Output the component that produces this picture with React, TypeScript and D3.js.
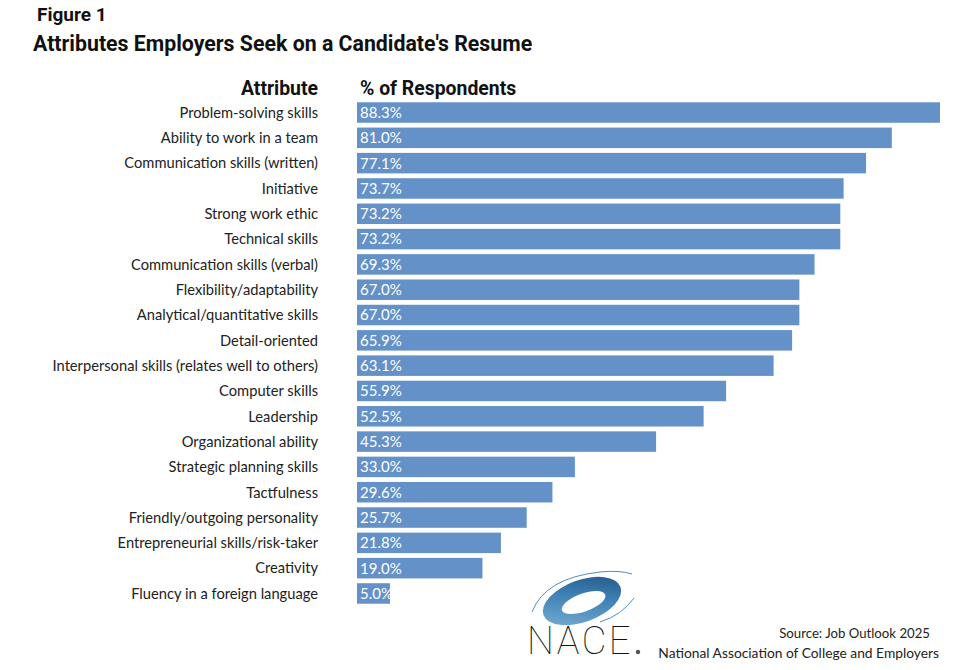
import { useEffect, useRef } from 'react';
import * as d3 from 'd3';

const attributes = [
  'Problem-solving skills',
  'Ability to work in a team',
  'Communication skills (written)',
  'Initiative',
  'Strong work ethic',
  'Technical skills',
  'Communication skills (verbal)',
  'Flexibility/adaptability',
  'Analytical/quantitative skills',
  'Detail-oriented',
  'Interpersonal skills (relates well to others)',
  'Computer skills',
  'Leadership',
  'Organizational ability',
  'Strategic planning skills',
  'Tactfulness',
  'Friendly/outgoing personality',
  'Entrepreneurial skills/risk-taker',
  'Creativity',
  'Fluency in a foreign language',
];

const percents = [
  88.3, 81.0, 77.1, 73.7, 73.2, 73.2, 69.3, 67.0, 67.0, 65.9, 63.1, 55.9, 52.5,
  45.3, 33.0, 29.6, 25.7, 21.8, 19.0, 5.0,
];

const WIDTH = 964;
const HEIGHT = 670;
const BAR_COLOR = '#6591c9';
const LABEL_FONT = 'Lato, "Open Sans", sans-serif';
const TITLE_FONT = 'Roboto, "Open Sans", sans-serif';

export default function App() {
  const svgRef = useRef<SVGSVGElement>(null);

  useEffect(() => {
    if (!svgRef.current) return;
    const svg = d3.select(svgRef.current);
    svg.selectAll('*').remove();

    const x = d3.scaleLinear().domain([0, 88.3]).range([357, 940]);
    const y = d3
      .scaleBand<string>()
      .domain(attributes)
      .range([101, 605])
      .paddingInner(0.19)
      .paddingOuter(0.05);

    const defs = svg.append('defs');
    const grad = defs
      .append('linearGradient')
      .attr('id', 'naceGrad')
      .attr('x1', '0%')
      .attr('y1', '100%')
      .attr('x2', '100%')
      .attr('y2', '0%');
    grad.append('stop').attr('offset', '0%').attr('stop-color', '#7fb3d8');
    grad.append('stop').attr('offset', '55%').attr('stop-color', '#3f82b5');
    grad.append('stop').attr('offset', '100%').attr('stop-color', '#1d4f7e');

    // titles
    svg
      .append('text')
      .attr('x', 37)
      .attr('y', 21)
      .attr('font-family', TITLE_FONT)
      .attr('font-weight', 'bold')
      .attr('font-size', 19)
      .attr('fill', '#111')
      .text('Figure 1');
    svg
      .append('text')
      .attr('x', 33)
      .attr('y', 51)
      .attr('font-family', TITLE_FONT)
      .attr('font-weight', 'bold')
      .attr('font-size', 21.3)
      .attr('fill', '#111')
      .text("Attributes Employers Seek on a Candidate's Resume");

    // column headers
    svg
      .append('text')
      .attr('x', 318)
      .attr('y', 95)
      .attr('text-anchor', 'end')
      .attr('font-family', TITLE_FONT)
      .attr('font-weight', 'bold')
      .attr('font-size', 19.4)
      .attr('fill', '#111')
      .text('Attribute');
    svg
      .append('text')
      .attr('x', 360)
      .attr('y', 95)
      .attr('font-family', TITLE_FONT)
      .attr('font-weight', 'bold')
      .attr('font-size', 19.4)
      .attr('fill', '#111')
      .text('% of Respondents');

    const rows = attributes.map((a, i) => ({ name: a, value: percents[i] }));

    svg
      .append('g')
      .selectAll('rect')
      .data(rows)
      .join('rect')
      .attr('x', x(0))
      .attr('y', (d) => y(d.name)!)
      .attr('width', (d) => x(d.value) - x(0))
      .attr('height', y.bandwidth())
      .attr('fill', BAR_COLOR);

    svg
      .append('g')
      .selectAll('text')
      .data(rows)
      .join('text')
      .attr('x', x(0) + 3)
      .attr('y', (d) => y(d.name)! + y.bandwidth() / 2)
      .attr('dy', '0.36em')
      .attr('font-family', LABEL_FONT)
      .attr('font-size', 15)
      .attr('fill', '#fff')
      .text((d) => d.value.toFixed(1) + '%');

    svg
      .append('g')
      .selectAll('text')
      .data(rows)
      .join('text')
      .attr('x', 318)
      .attr('y', (d) => y(d.name)! + y.bandwidth() / 2)
      .attr('dy', '0.36em')
      .attr('text-anchor', 'end')
      .attr('font-family', LABEL_FONT)
      .attr('font-size', 14.7)
      .attr('fill', '#222')
      .text((d) => d.name);

    // NACE logo
    const logo = svg.append('g');
    const ring = (cx: number, cy: number, rx: number, ry: number) =>
      `M ${cx - rx} ${cy} a ${rx} ${ry} 0 1 0 ${2 * rx} 0 a ${rx} ${ry} 0 1 0 ${-2 * rx} 0 Z`;
    logo
      .append('path')
      .attr('d', ring(582, 601, 41, 21) + ' ' + ring(583, 603, 23, 9))
      .attr('fill-rule', 'evenodd')
      .attr('transform', 'rotate(-20 582 601)')
      .attr('fill', 'url(#naceGrad)');
    logo
      .append('path')
      .attr('d', 'M 532 612 Q 545 578 600 572 Q 620 570 632 574')
      .attr('fill', 'none')
      .attr('stroke', '#4f8fbf')
      .attr('stroke-width', 1);
    logo
      .append('path')
      .attr('d', 'M 600 622 Q 622 615 634 598')
      .attr('fill', 'none')
      .attr('stroke', '#4f8fbf')
      .attr('stroke-width', 1);
    logo
      .append('text')
      .attr('x', 527)
      .attr('y', 654)
      .attr('font-family', 'Roboto, sans-serif')
      .attr('font-weight', 100)
      .attr('font-size', 38)
      .attr('letter-spacing', 2.5)
      .attr('fill', '#111')
      .text('NACE');
    logo
      .append('circle')
      .attr('cx', 638)
      .attr('cy', 652)
      .attr('r', 2.2)
      .attr('fill', '#555');

    // source
    svg
      .append('text')
      .attr('x', 930)
      .attr('y', 638)
      .attr('text-anchor', 'end')
      .attr('font-family', LABEL_FONT)
      .attr('font-size', 13.2)
      .attr('fill', '#222')
      .text('Source:  Job Outlook 2025');
    svg
      .append('text')
      .attr('x', 939)
      .attr('y', 658)
      .attr('text-anchor', 'end')
      .attr('font-family', LABEL_FONT)
      .attr('font-size', 13.8)
      .attr('fill', '#222')
      .text('National Association of College and Employers');
  }, []);

  return (
    <svg
      ref={svgRef}
      width={WIDTH}
      height={HEIGHT}
      style={{ position: 'absolute', left: 0, top: 0, background: '#fff' }}
    />
  );
}
